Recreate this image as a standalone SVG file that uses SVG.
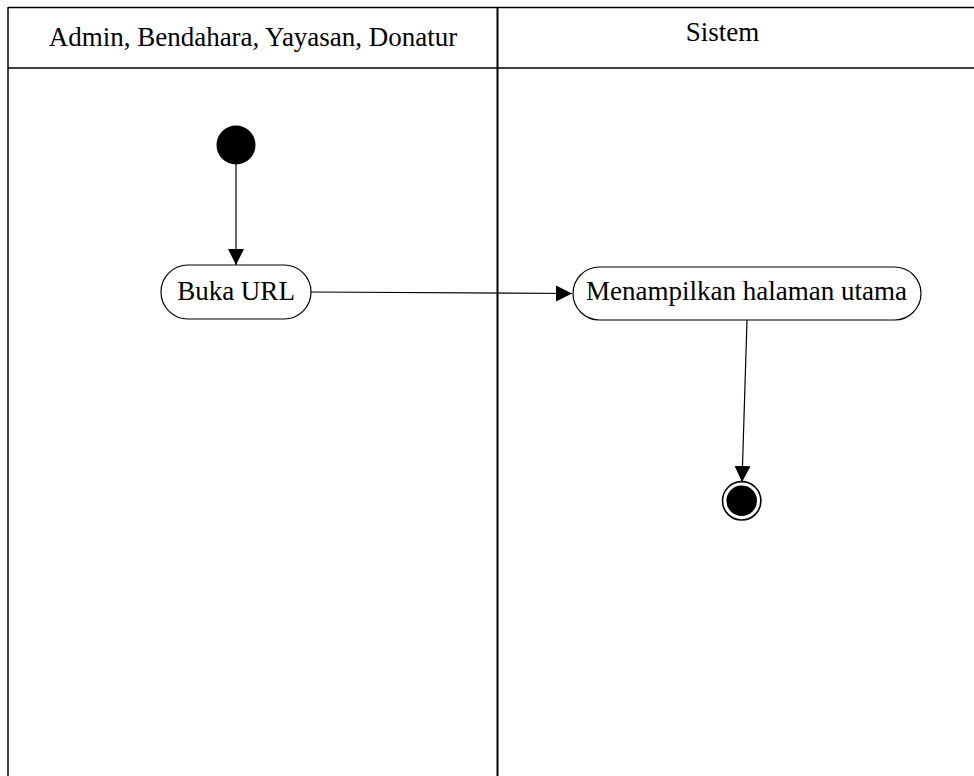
<svg xmlns="http://www.w3.org/2000/svg" width="974" height="776" viewBox="0 0 974 776">
<style>
.lane{stroke:#000;stroke-width:1.5;fill:none}
.div{stroke:#000;stroke-width:2;fill:none}
.t{font-family:"Liberation Serif","Times New Roman",serif;font-size:27px;fill:#000;text-anchor:middle}
.act{fill:#fff;stroke:#000;stroke-width:1.2}
.edge{stroke:#000;stroke-width:1.2;fill:none}
</style>
<defs>
<marker id="arr" markerUnits="userSpaceOnUse" markerWidth="17" markerHeight="17" refX="16" refY="8" orient="auto">
<path d="M0,0 L16,8 L0,16 z" fill="#000"/>
</marker>
</defs>
<rect width="974" height="776" fill="#fff"/>
<g id="swimlanes">
<line class="lane" x1="8" y1="7.5" x2="974" y2="7.5"/>
<line class="lane" x1="8" y1="68" x2="974" y2="68"/>
<line class="lane" x1="8" y1="7" x2="8" y2="776"/>
<line class="div" x1="497.5" y1="7" x2="497.5" y2="776"/>
<text class="t" x="253" y="46">Admin, Bendahara, Yayasan, Donatur</text>
<text class="t" x="722.5" y="41">Sistem</text>
</g>
<g id="connectors">
<line class="edge" x1="236" y1="164" x2="236" y2="265" marker-end="url(#arr)"/>
<line class="edge" x1="311" y1="292" x2="572" y2="293.5" marker-end="url(#arr)"/>
<line class="edge" x1="747" y1="320" x2="742" y2="482" marker-end="url(#arr)"/>
</g>
<g id="start">
<circle cx="236" cy="145" r="19.5" fill="#000"/>
</g>
<g id="buka-url">
<rect class="act" x="161" y="265" width="150" height="54" rx="27" ry="27"/>
<text class="t" x="236" y="300">Buka URL</text>
</g>
<g id="menampilkan">
<rect class="act" x="573" y="267" width="348" height="53" rx="26.5" ry="26.5"/>
<text class="t" x="746.5" y="300">Menampilkan halaman utama</text>
</g>
<g id="end">
<circle cx="741.7" cy="500.8" r="19.2" fill="#fff" stroke="#000" stroke-width="1.6"/>
<circle cx="741.7" cy="500.8" r="15.3" fill="#000"/>
</g>
</svg>
